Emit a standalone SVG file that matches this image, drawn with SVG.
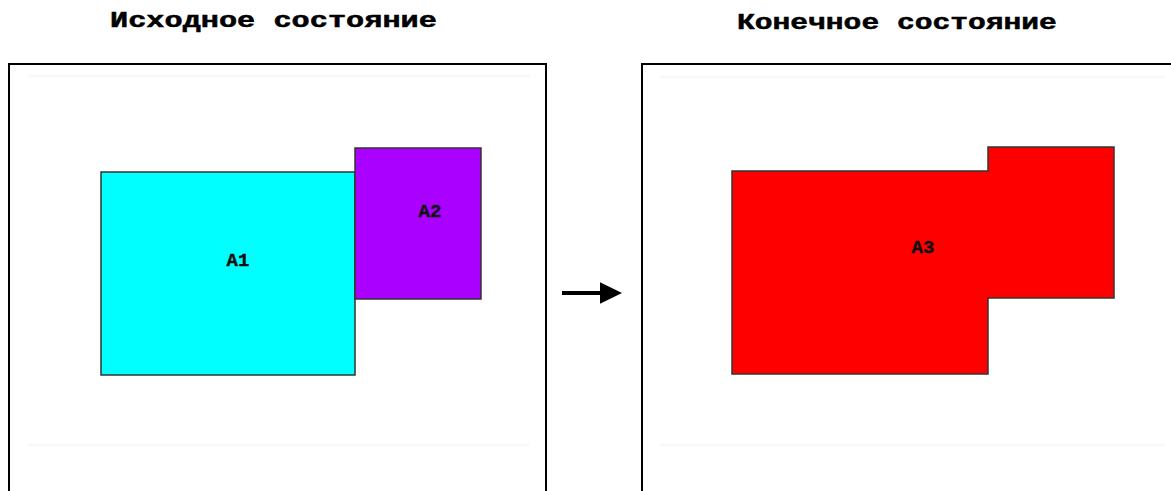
<svg xmlns="http://www.w3.org/2000/svg" width="1171" height="491" viewBox="0 0 1171 491">
<style>
.title{font-family:"Liberation Mono","Courier New",monospace;font-weight:bold;font-size:22px;fill:#000;stroke:#000;stroke-width:0.5}
.lbl{font-family:"Liberation Mono","Courier New",monospace;font-weight:bold;font-size:19px;fill:#111;stroke:#111;stroke-width:0.4;text-anchor:middle}
.frame{fill:#fff;stroke:#000;stroke-width:2}
.faint{stroke:#f8fafa;stroke-width:3}
.shape{stroke:#333;stroke-width:1.5}
</style>
<defs>
<marker id="ah" markerWidth="6" markerHeight="6" refX="0" refY="3" orient="auto" markerUnits="strokeWidth">
<path d="M0,0.3 L5.5,3 L0,5.7 z" fill="#000"/>
</marker>
</defs>
<rect width="1171" height="491" fill="#fff"/>
<g id="title-left"><text class="title" transform="translate(110,27) scale(1.376,1)">Исходное состояние</text></g>
<g id="title-right"><text class="title" transform="translate(737,29) scale(1.347,1)">Конечное состояние</text></g>
<g id="frame-left">
<rect class="frame" x="9" y="64" width="537" height="440"/>
<line class="faint" x1="28" y1="76" x2="530" y2="76"/>
<line class="faint" x1="28" y1="445" x2="530" y2="445"/>
</g>
<g id="frame-right">
<rect class="frame" x="642" y="64" width="540" height="440"/>
<line class="faint" x1="660" y1="77" x2="1165" y2="77"/>
<line class="faint" x1="660" y1="445" x2="1165" y2="445"/>
</g>
<g id="A1">
<rect class="shape" x="101" y="172" width="254" height="203" fill="#00ffff"/>
<text class="lbl" x="238" y="266">A1</text>
</g>
<g id="A2">
<rect class="shape" x="355" y="148" width="126" height="151" fill="#aa00ff"/>
<text class="lbl" x="430" y="217">A2</text>
</g>
<g id="A3">
<path class="shape" d="M732,171 H988 V147 H1114 V298 H988 V374 H732 Z" fill="#ff0000"/>
<text class="lbl" x="923" y="253">A3</text>
</g>
<g id="connectors">
<line x1="562" y1="293" x2="600" y2="293" stroke="#000" stroke-width="4" marker-end="url(#ah)"/>
</g>
</svg>
